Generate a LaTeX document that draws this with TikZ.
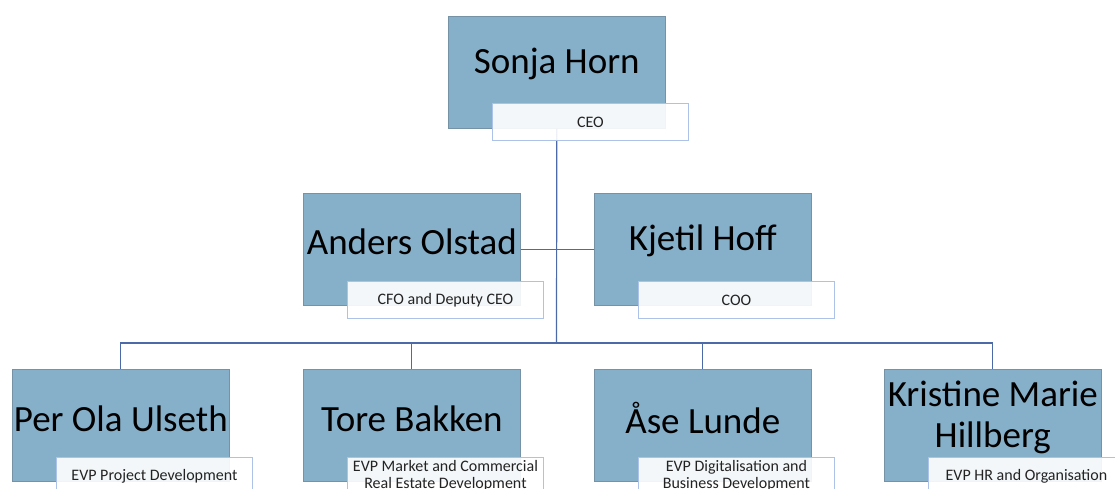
\documentclass[tikz,border=0pt]{standalone}
\usepackage{fontspec}
\setmainfont{Carlito}
\definecolor{boxfill}{RGB}{134,176,202}
\definecolor{boxline}{RGB}{118,146,166}
\definecolor{titleline}{RGB}{172,194,232}
\definecolor{linkline}{RGB}{76,106,168}
\definecolor{titletext}{RGB}{35,35,35}
\tikzset{
  person/.style={draw=boxline, line width=0.6pt, fill=boxfill, anchor=north west,
    minimum width=217pt, minimum height=112pt, inner sep=0pt},
  pname/.style={font=\fontsize{37}{41}\selectfont, align=center, inner sep=0pt},
  ptitle/.style={draw=titleline, line width=0.9pt, fill=white, fill opacity=0.9,
    text opacity=1, anchor=north west, minimum width=196pt, minimum height=37pt,
    inner sep=0pt, align=center, text=titletext,
    font=\fontsize{16}{17.5}\selectfont},
  link/.style={draw=linkline, line width=1.2pt}
}
\begin{document}
\begin{tikzpicture}[x=1pt, y=-1pt]
\useasboundingbox (0,0) rectangle (1115,489);
\clip (0,0) rectangle (1115,489);

% boxes for each person
\node[person] (ceo) at (448,16) {};
\node[person] (anders) at (303,193) {};
\node[person] (kjetil) at (594,193) {};
\node[person] (per) at (12,369) {};
\node[person] (tore) at (303,369) {};
\node[person] (ase) at (594,369) {};
\node[person] (kristine) at (884,369) {};

% reporting lines
\coordinate (bus) at (556.5,343);
\draw[link] (ceo.south) -- (bus);
\draw[link] (anders.east) -- (kjetil.west);
\draw[link] (per.north) |- (bus) -| (kristine.north);
\draw[link] (tore.north) -- (tore.north |- bus);
\draw[link] (ase.north) -- (ase.north |- bus);

% names
\node[pname] (ceo-n) at ([yshift=8pt]ceo.center) {Sonja Horn};
\node[pname] (anders-n) at ([yshift=8pt]anders.center) {Anders Olstad};
\node[pname] (kjetil-n) at ([yshift=8pt]kjetil.center) {Kjetil Hoff};
\node[pname] (per-n) at ([yshift=7pt]per.center) {Per Ola Ulseth};
\node[pname] (tore-n) at ([yshift=7pt]tore.center) {Tore Bakken};
\node[pname] (ase-n) at ([yshift=7pt]ase.center) {Åse Lunde};
\node[pname] (kristine-n) at ([yshift=8pt]kristine.center) {Kristine Marie\\Hillberg};

% job titles
\node[ptitle] (ceo-t) at (492,103) {CEO};
\node[ptitle] (anders-t) at (347,281) {CFO and Deputy CEO};
\node[ptitle] (kjetil-t) at (638,281) {COO};
\node[ptitle] (per-t) at (56,457) {EVP Project Development};
\node[ptitle] (tore-t) at (347,457) {EVP Market and Commercial\\Real Estate Development};
\node[ptitle] (ase-t) at (638,457) {EVP Digitalisation and\\Business Development};
\node[ptitle] (kristine-t) at (928,457) {EVP HR and Organisation};
\end{tikzpicture}
\end{document}
